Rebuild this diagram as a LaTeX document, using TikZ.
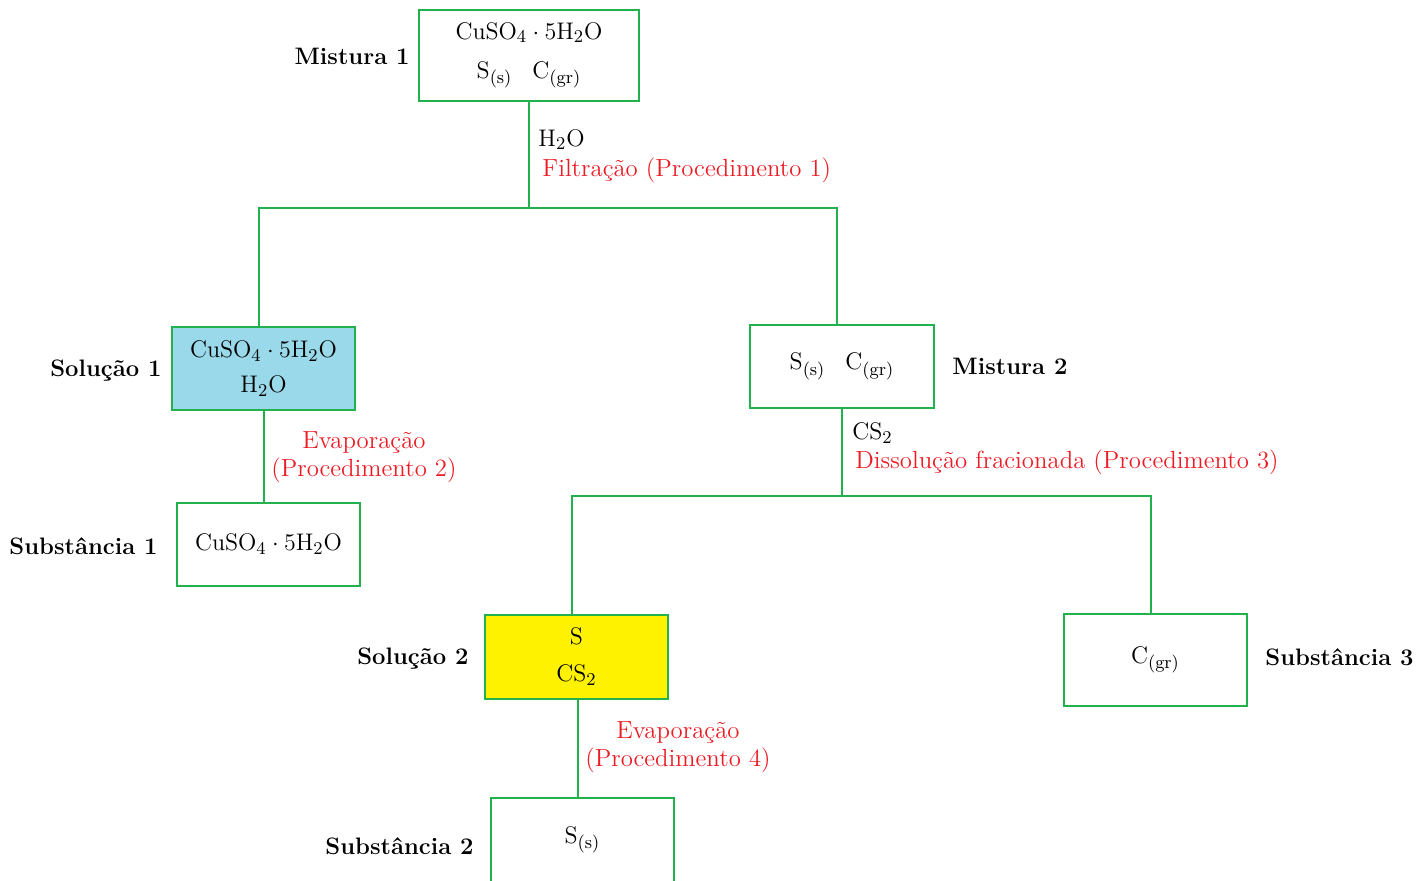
\documentclass[tikz,border=0pt]{standalone}
\usetikzlibrary{calc}
\definecolor{boxgreen}{RGB}{34,177,76}
\definecolor{soulblue}{RGB}{153,217,234}
\definecolor{soulyellow}{RGB}{255,242,0}
\definecolor{procred}{RGB}{237,28,36}
\begin{document}
\begin{tikzpicture}[x=0.5pt,y=-0.5pt,
  every node/.style={font=\fontsize{12.4}{18.5}\selectfont},
  boxnode/.style={draw=boxgreen,line width=1.3pt,rectangle,inner sep=0pt,align=center,
    minimum width=91.5pt,minimum height=41.5pt},
  conn/.style={draw=boxgreen,line width=1.3pt,line join=miter},
  lbl/.style={font=\fontsize{11.9}{14}\selectfont\bfseries,inner sep=0pt},
  proc/.style={text=procred,inner sep=0pt,font=\fontsize{12.4}{14}\selectfont},
  reag/.style={inner sep=0pt}]
\useasboundingbox (0,0) rectangle (1416,881);

% boxes
\node[boxnode,minimum width=110pt,minimum height=45.5pt] (m1) at (529,55.5)
  {$\mathrm{CuSO_4\cdot 5H_2O}$\\[1pt] $\mathrm{S_{(s)}\;\;\; C_{(gr)}}$};
\node[boxnode,fill=soulblue] (s1) at (263.5,368.5)
  {$\mathrm{CuSO_4\cdot 5H_2O}$\\[-1pt] $\mathrm{H_2O}$};
\node[boxnode,minimum width=92pt] (m2) at (842,366.5)
  {$\mathrm{S_{(s)}\;\;\; C_{(gr)}}$};
\node[boxnode] (sub1) at (268.5,544.5)
  {$\mathrm{CuSO_4\cdot 5H_2O}$};
\node[boxnode,fill=soulyellow,minimum height=42pt] (sol2) at (576.5,657)
  {$\mathrm{S}$\\ $\mathrm{CS_2}$};
\node[boxnode,minimum height=46pt] (sub3) at (1155.5,660)
  {$\mathrm{C_{(gr)}}$};
\node[boxnode,minimum height=42pt] (sub2) at (582.5,840)
  {$\mathrm{S_{(s)}}$};

% connectors
\coordinate (j1) at (529,208);
\coordinate (j1L) at (259,208);
\coordinate (j1R) at (837,208);
\draw[conn] (m1.south) -- (j1);
\draw[conn] (j1L |- s1.north) -- (j1L) -- (j1R) -- (j1R |- m2.north);
\coordinate (c1) at ($(s1.south)+(0.5,0)$);
\draw[conn] (c1) -- (c1 |- sub1.north);

\coordinate (j2) at (842,496);
\coordinate (j2L) at (572,496);
\coordinate (j2R) at (1151,496);
\draw[conn] (m2.south) -- (j2);
\draw[conn] (j2L |- sol2.north) -- (j2L) -- (j2R) -- (j2R |- sub3.north);
\coordinate (c2) at ($(sol2.south)+(1.5,0)$);
\draw[conn] (c2) -- (c2 |- sub2.north);

% side labels
\node[lbl,anchor=east] (lm1) at (410,56) {Mistura 1};
\node[lbl,anchor=east] (ls1) at (162,371) {Solução 1};
\node[lbl,anchor=east] (lsub1) at (158,546) {Substância 1};
\node[lbl,anchor=west] (lm2) at (952,366) {Mistura 2};
\node[lbl,anchor=east] (lsol2) at (469,659) {Solução 2};
\node[lbl,anchor=west] (lsub3) at (1265,657) {Substância 3};
\node[lbl,anchor=east] (lsub2) at (474,846) {Substância 2};

% procedure labels
\node[reag,anchor=west] (r1) at (538,140) {$\mathrm{H_2O}$};
\node[proc,anchor=west] (p1) at (542,170) {Filtração (Procedimento 1)};
\node[proc,align=center] (p2) at (364,457) {Evaporação\\(Procedimento 2)};
\node[reag,anchor=west] (r3) at (852,433) {$\mathrm{CS_2}$};
\node[proc,anchor=west] (p3) at (855,462) {Dissolução fracionada (Procedimento 3)};
\node[proc,align=center] (p4) at (678,747) {Evaporação\\(Procedimento 4)};
\end{tikzpicture}
\end{document}
